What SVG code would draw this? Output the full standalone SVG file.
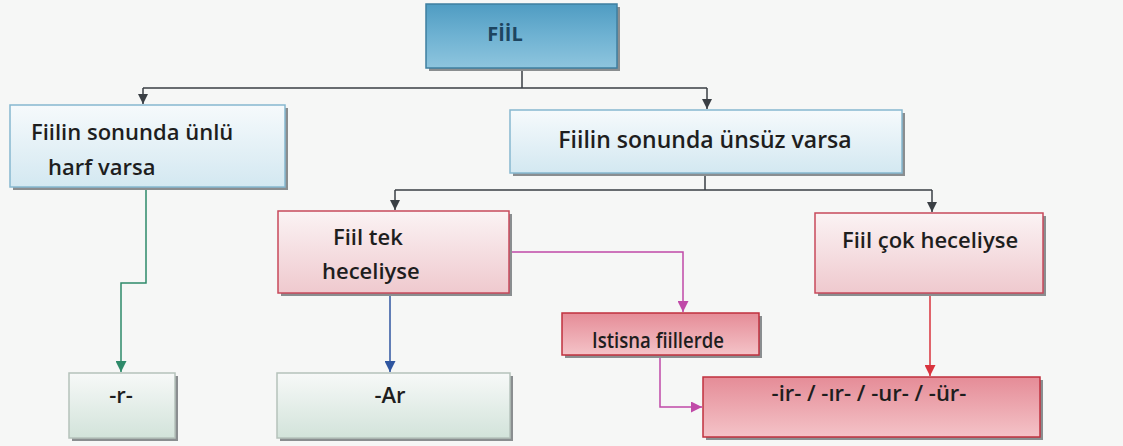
<svg xmlns="http://www.w3.org/2000/svg" width="1123" height="446" viewBox="0 0 1123 446">
<defs>
<linearGradient id="gTop" x1="0" y1="0" x2="0" y2="1"><stop offset="0" stop-color="#4f9cc2"/><stop offset="0.5" stop-color="#6fb2d2"/><stop offset="1" stop-color="#8ec5de"/></linearGradient>
<linearGradient id="gBlue" x1="0" y1="0" x2="0" y2="1"><stop offset="0" stop-color="#f6fafc"/><stop offset="1" stop-color="#d3e8f1"/></linearGradient>
<linearGradient id="gPink" x1="0" y1="0" x2="0" y2="1"><stop offset="0" stop-color="#fbf3f4"/><stop offset="1" stop-color="#efc9ce"/></linearGradient>
<linearGradient id="gRed" x1="0" y1="0" x2="0" y2="1"><stop offset="0" stop-color="#e58c97"/><stop offset="1" stop-color="#f4c3c8"/></linearGradient>
<linearGradient id="gGreen" x1="0" y1="0" x2="0" y2="1"><stop offset="0" stop-color="#f7f9f8"/><stop offset="1" stop-color="#d2e3da"/></linearGradient>
<marker id="aDark" viewBox="0 0 10 10" refX="10" refY="5" markerWidth="10" markerHeight="10" markerUnits="userSpaceOnUse" orient="auto"><path d="M0,0 L10,5 L0,10 z" fill="#3a3f44"/></marker>
<marker id="aGreen" viewBox="0 0 10 10" refX="10" refY="5" markerWidth="11" markerHeight="11" markerUnits="userSpaceOnUse" orient="auto"><path d="M0,0 L10,5 L0,10 z" fill="#2e8a6a"/></marker>
<marker id="aBlue" viewBox="0 0 10 10" refX="10" refY="5" markerWidth="11" markerHeight="11" markerUnits="userSpaceOnUse" orient="auto"><path d="M0,0 L10,5 L0,10 z" fill="#2f56a0"/></marker>
<marker id="aPink" viewBox="0 0 10 10" refX="10" refY="5" markerWidth="11" markerHeight="11" markerUnits="userSpaceOnUse" orient="auto"><path d="M0,0 L10,5 L0,10 z" fill="#c04aa8"/></marker>
<marker id="aRed" viewBox="0 0 10 10" refX="10" refY="5" markerWidth="11" markerHeight="11" markerUnits="userSpaceOnUse" orient="auto"><path d="M0,0 L10,5 L0,10 z" fill="#d9333d"/></marker>
</defs>
<style>
.t{font-family:"Open Sans","Noto Sans","Liberation Sans",sans-serif;font-weight:600;fill:#1e1e1e;font-size:22px}
.sh{fill:#8a8e90}
.blue{fill:url(#gBlue);stroke:#86b8cf;stroke-width:1.5}
.pink{fill:url(#gPink);stroke:#c8495b;stroke-width:1.5}
.red{fill:url(#gRed);stroke:#c0303e;stroke-width:1.5}
.green{fill:url(#gGreen);stroke:#b5c2bb;stroke-width:1.5}
.ln{fill:none;stroke-width:1.5}
</style>
<rect width="1123" height="446" fill="#f6f7f6"/>
<g id="connectors">
<path class="ln" stroke="#3a3f44" d="M522,68 V88 M143,88 H707"/>
<path class="ln" stroke="#3a3f44" d="M143,88 V104" marker-end="url(#aDark)"/>
<path class="ln" stroke="#3a3f44" d="M707,88 V109" marker-end="url(#aDark)"/>
<path class="ln" stroke="#3a3f44" d="M705,173 V190 M395,190 H932"/>
<path class="ln" stroke="#3a3f44" d="M395,190 V210" marker-end="url(#aDark)"/>
<path class="ln" stroke="#3a3f44" d="M932,190 V212" marker-end="url(#aDark)"/>
<path class="ln" stroke="#2e8a6a" d="M146,187 V283 H121 V372" marker-end="url(#aGreen)"/>
<path class="ln" stroke="#2f56a0" d="M390,293 V372" marker-end="url(#aBlue)"/>
<path class="ln" stroke="#c04aa8" d="M509,252 H683 V312" marker-end="url(#aPink)"/>
<path class="ln" stroke="#c04aa8" d="M660,355 V407 H702" marker-end="url(#aPink)"/>
<path class="ln" stroke="#d9333d" d="M930,293 V376" marker-end="url(#aRed)"/>
</g>
<g id="n-fiil">
<rect class="sh" x="429" y="7" width="191" height="64"/>
<rect x="426" y="4" width="191" height="64" fill="url(#gTop)" stroke="#3e7fa0" stroke-width="1.5"/>
<text class="t" x="505" y="41" text-anchor="middle" style="fill:#1d4560;font-size:20px;font-weight:700">FİİL</text>
</g>
<g id="n-unlu">
<rect class="sh" x="13" y="108" width="275" height="82"/>
<rect class="blue" x="10" y="105" width="275" height="82"/>
<text class="t" x="31" y="140">Fiilin sonunda ünlü</text>
<text class="t" x="48" y="175">harf varsa</text>
</g>
<g id="n-unsuz">
<rect class="sh" x="513" y="113" width="392" height="63"/>
<rect class="blue" x="510" y="110" width="392" height="63"/>
<text class="t" x="705" y="148" text-anchor="middle" style="font-size:23px">Fiilin sonunda ünsüz varsa</text>
</g>
<g id="n-tek">
<rect class="sh" x="281" y="214" width="231" height="82"/>
<rect class="pink" x="278" y="211" width="231" height="82"/>
<text class="t" x="333" y="245">Fiil tek</text>
<text class="t" x="322" y="279">heceliyse</text>
</g>
<g id="n-cok">
<rect class="sh" x="818" y="216" width="228" height="80"/>
<rect class="pink" x="815" y="213" width="228" height="80"/>
<text class="t" x="930" y="248" text-anchor="middle">Fiil çok heceliyse</text>
</g>
<g id="n-istisna">
<rect class="sh" x="565" y="316" width="197" height="42"/>
<rect class="red" x="562" y="313" width="197" height="42"/>
<text class="t" x="592" y="348" textLength="132" lengthAdjust="spacingAndGlyphs" style="font-size:21px">Istisna fiillerde</text>
</g>
<g id="n-r">
<rect class="sh" x="72" y="376" width="106" height="65"/>
<rect class="green" x="69" y="373" width="106" height="65"/>
<text class="t" x="121" y="403" text-anchor="middle">-r-</text>
</g>
<g id="n-ar">
<rect class="sh" x="280" y="376" width="233" height="65"/>
<rect class="green" x="277" y="373" width="233" height="65"/>
<text class="t" x="390" y="403" text-anchor="middle">-Ar</text>
</g>
<g id="n-ir">
<rect class="sh" x="706" y="380" width="337" height="60"/>
<rect class="red" x="703" y="377" width="337" height="60"/>
<text class="t" x="869" y="401" text-anchor="middle">-ir- / -ır- / -ur- / -ür-</text>
</g>
</svg>
